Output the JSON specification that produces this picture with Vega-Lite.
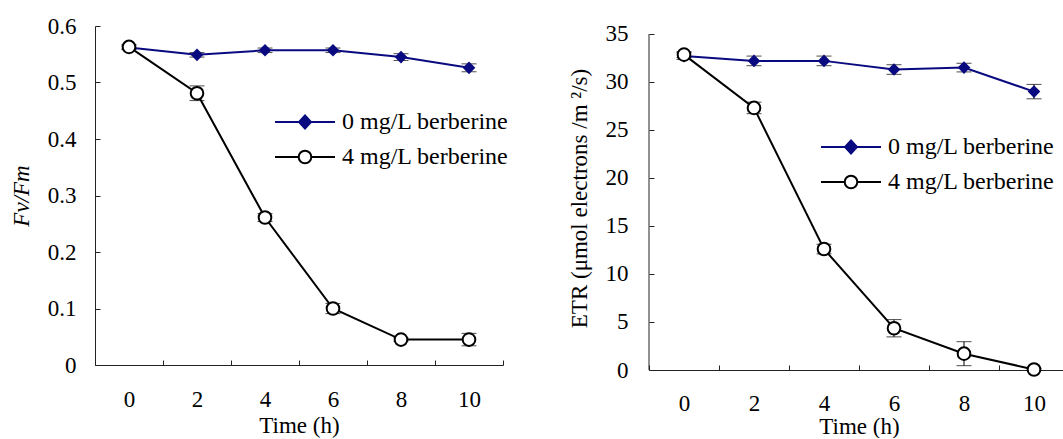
{
  "$schema": "https://vega.github.io/schema/vega-lite/v6.json",
  "background": "white",
  "padding": {"left": 10, "top": 15, "right": 0, "bottom": 0},
  "datasets": {
    "fvfm": [
      {"t": 0, "series": "0 mg/L berberine", "v": 0.562, "err": 0.003},
      {"t": 2, "series": "0 mg/L berberine", "v": 0.549, "err": 0.004},
      {"t": 4, "series": "0 mg/L berberine", "v": 0.557, "err": 0.004},
      {"t": 6, "series": "0 mg/L berberine", "v": 0.557, "err": 0.004},
      {"t": 8, "series": "0 mg/L berberine", "v": 0.545, "err": 0.006},
      {"t": 10, "series": "0 mg/L berberine", "v": 0.526, "err": 0.007},
      {"t": 0, "series": "4 mg/L berberine", "v": 0.563, "err": 0.004},
      {"t": 2, "series": "4 mg/L berberine", "v": 0.481, "err": 0.013},
      {"t": 4, "series": "4 mg/L berberine", "v": 0.261, "err": 0.007},
      {"t": 6, "series": "4 mg/L berberine", "v": 0.1, "err": 0.009},
      {"t": 8, "series": "4 mg/L berberine", "v": 0.045, "err": 0.003},
      {"t": 10, "series": "4 mg/L berberine", "v": 0.045, "err": 0.011}
    ],
    "etr": [
      {"t": 0, "series": "0 mg/L berberine", "v": 32.7, "err": 0.35},
      {"t": 2, "series": "0 mg/L berberine", "v": 32.2, "err": 0.5},
      {"t": 4, "series": "0 mg/L berberine", "v": 32.2, "err": 0.5},
      {"t": 6, "series": "0 mg/L berberine", "v": 31.3, "err": 0.5},
      {"t": 8, "series": "0 mg/L berberine", "v": 31.5, "err": 0.45},
      {"t": 10, "series": "0 mg/L berberine", "v": 29.0, "err": 0.75},
      {"t": 0, "series": "4 mg/L berberine", "v": 32.85, "err": 0.3},
      {"t": 2, "series": "4 mg/L berberine", "v": 27.3, "err": 0.6},
      {"t": 4, "series": "4 mg/L berberine", "v": 12.6, "err": 0.5},
      {"t": 6, "series": "4 mg/L berberine", "v": 4.35, "err": 0.9},
      {"t": 8, "series": "4 mg/L berberine", "v": 1.7, "err": 1.25},
      {"t": 10, "series": "4 mg/L berberine", "v": 0.05, "err": 0.1}
    ]
  },
  "config": {
    "view": {"stroke": null},
    "font": "Liberation Serif",
    "axis": {
      "labelFont": "Liberation Serif",
      "titleFont": "Liberation Serif",
      "labelFontSize": 23,
      "titleFontSize": 23,
      "titleFontWeight": "normal",
      "labelColor": "black",
      "titleColor": "black",
      "domainColor": "#222222",
      "tickColor": "#222222",
      "grid": false,
      "tickSize": -5
    },
    "legend": {
      "labelFont": "Liberation Serif",
      "labelFontSize": 24,
      "labelColor": "black",
      "labelLimit": 400,
      "symbolSize": 144,
      "symbolStrokeWidth": 2,
      "labelOffset": 25,
      "rowPadding": 11,
      "title": null
    }
  },
  "hconcat": [
    {
      "width": 408,
      "height": 339,
      "data": {"name": "fvfm"},
      "encoding": {
        "x": {"field": "t", "type": "ordinal", "scale": {"type": "band", "paddingInner": 0, "paddingOuter": 0},
          "axis": {"title": "Time (h)", "labelAngle": 0, "tickBand": "extent", "labelPadding": 28, "titlePadding": 3}}
      },
      "layer": [
        {
          "mark": {"type": "errorbar", "ticks": {"size": 15}, "color": "black", "thickness": 1},
          "encoding": {
            "y": {"field": "v", "type": "quantitative", "title": "Fv/Fm"},
            "yError": {"field": "err"}
          }
        },
        {
          "mark": {"type": "line", "strokeWidth": 2},
          "encoding": {
            "y": {"field": "v", "type": "quantitative", "scale": {"domain": [0, 0.6]},
              "axis": {"title": "Fv/Fm", "titleFontStyle": "italic", "values": [0, 0.1, 0.2, 0.3, 0.4, 0.5, 0.6], "format": "~g", "labelPadding": 24, "titlePadding": 14}},
            "color": {"field": "series", "type": "nominal",
              "scale": {"domain": ["0 mg/L berberine", "4 mg/L berberine"], "range": ["#0a0a80", "#000000"]},
              "legend": {"orient": "none", "legendX": 198, "legendY": 84,
                "encode": {"symbols": {"update": {
                  "shape": {"signal": "datum.value === '0 mg/L berberine' ? 'M-5,0H5M0,-1.1L1,0L0,1.1L-1,0Z' : 'M-5,0H-1.05M1.05,0H5M-1.05,0A1.05,1.05,0,1,1,1.05,0A1.05,1.05,0,1,1,-1.05,0Z'"},
                  "fill": {"signal": "datum.value === '0 mg/L berberine' ? '#0a0a80' : '#ffffff'"},
                  "stroke": {"signal": "datum.value === '0 mg/L berberine' ? '#0a0a80' : '#000000'"},
                  "opacity": {"value": 1},
                  "strokeWidth": {"value": 2}
                }}}}
            }
          }
        },
        {
          "transform": [{"filter": "datum.series === '0 mg/L berberine'"}],
          "mark": {"type": "point", "shape": "diamond", "filled": true, "size": 160, "opacity": 1, "color": "#0a0a80"},
          "encoding": {
            "y": {"field": "v", "type": "quantitative"}
          }
        },
        {
          "transform": [{"filter": "datum.series === '4 mg/L berberine'"}],
          "mark": {"type": "point", "shape": "circle", "filled": false, "fill": "#ffffff", "size": 160, "strokeWidth": 2, "opacity": 1, "stroke": "#000000"},
          "encoding": {
            "y": {"field": "v", "type": "quantitative"}
          }
        }
      ]
    },
    {
      "width": 420,
      "height": 344,
      "data": {"name": "etr"},
      "encoding": {
        "x": {"field": "t", "type": "ordinal", "scale": {"type": "band", "paddingInner": 0, "paddingOuter": 0},
          "axis": {"title": "Time (h)", "labelAngle": 0, "tickBand": "extent", "labelPadding": 27, "titlePadding": 0}}
      },
      "layer": [
        {
          "data": {"values": [{}]},
          "mark": {"type": "rule", "color": "#222222", "strokeWidth": 1},
          "encoding": {
            "x": {"datum": 0, "type": "ordinal", "bandPosition": 0},
            "y": {"datum": 0, "type": "quantitative"},
            "y2": {"datum": 35}
          }
        },
        {
          "mark": {"type": "errorbar", "ticks": {"size": 15}, "color": "black", "thickness": 1},
          "encoding": {
            "y": {"field": "v", "type": "quantitative", "title": "ETR (μmol electrons /m ²/s)"},
            "yError": {"field": "err"}
          }
        },
        {
          "mark": {"type": "line", "strokeWidth": 2},
          "encoding": {
            "y": {"field": "v", "type": "quantitative", "scale": {"domain": [0, 35.833], "nice": false},
              "axis": {"title": "ETR (μmol electrons /m ²/s)", "domain": false, "values": [0, 5, 10, 15, 20, 25, 30, 35], "labelPadding": 26, "titlePadding": 14}},
            "color": {"field": "series", "type": "nominal",
              "scale": {"domain": ["0 mg/L berberine", "4 mg/L berberine"], "range": ["#0a0a80", "#000000"]},
              "legend": {"orient": "none", "legendX": 190, "legendY": 109,
                "encode": {"symbols": {"update": {
                  "shape": {"signal": "datum.value === '0 mg/L berberine' ? 'M-5,0H5M0,-1.1L1,0L0,1.1L-1,0Z' : 'M-5,0H-1.05M1.05,0H5M-1.05,0A1.05,1.05,0,1,1,1.05,0A1.05,1.05,0,1,1,-1.05,0Z'"},
                  "fill": {"signal": "datum.value === '0 mg/L berberine' ? '#0a0a80' : '#ffffff'"},
                  "stroke": {"signal": "datum.value === '0 mg/L berberine' ? '#0a0a80' : '#000000'"},
                  "opacity": {"value": 1},
                  "strokeWidth": {"value": 2}
                }}}}
            }
          }
        },
        {
          "transform": [{"filter": "datum.series === '0 mg/L berberine'"}],
          "mark": {"type": "point", "shape": "diamond", "filled": true, "size": 160, "opacity": 1, "color": "#0a0a80"},
          "encoding": {
            "y": {"field": "v", "type": "quantitative"}
          }
        },
        {
          "transform": [{"filter": "datum.series === '4 mg/L berberine'"}],
          "mark": {"type": "point", "shape": "circle", "filled": false, "fill": "#ffffff", "size": 160, "strokeWidth": 2, "opacity": 1, "stroke": "#000000"},
          "encoding": {
            "y": {"field": "v", "type": "quantitative"}
          }
        }
      ]
    }
  ],
  "resolve": {"scale": {"color": "independent", "y": "independent"}, "legend": {"color": "independent"}},
  "spacing": 59
}
